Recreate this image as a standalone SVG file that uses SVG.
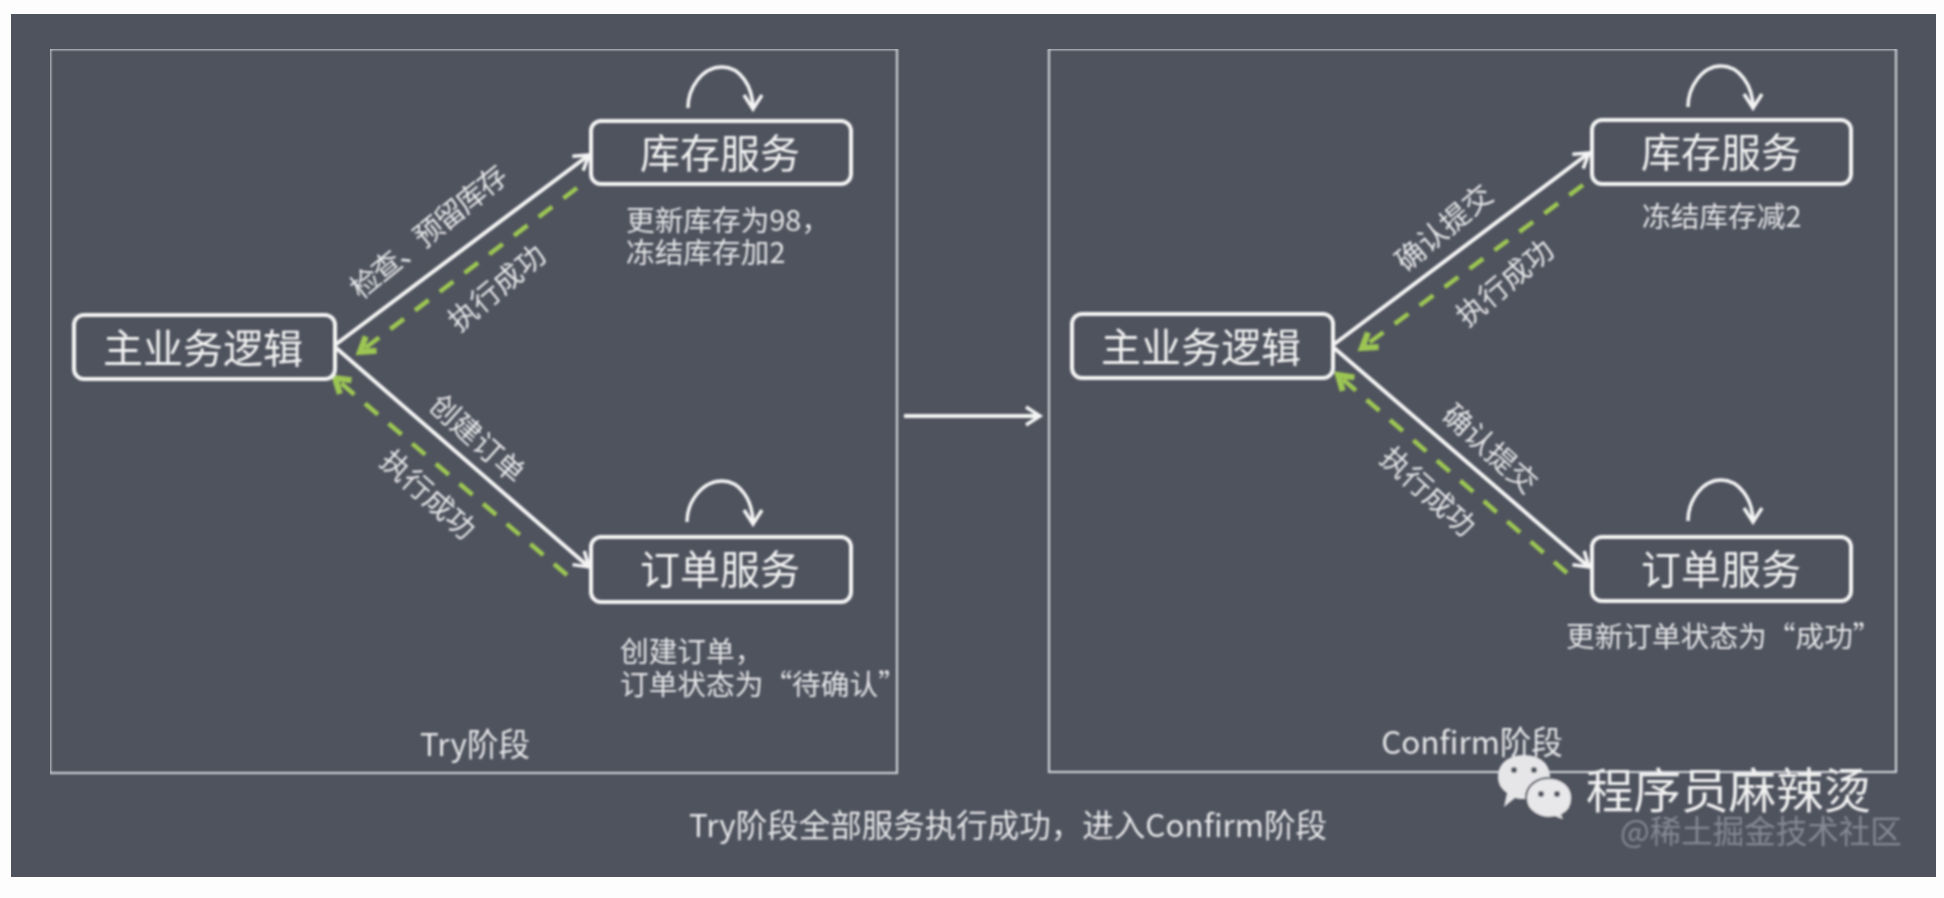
<svg xmlns="http://www.w3.org/2000/svg" width="1944" height="898" viewBox="0 0 1944 898">
<style>
text{font-family:"Noto Sans CJK SC","Liberation Sans",sans-serif;fill:#e4e5e7}
.n text{font-size:40px;text-anchor:middle;fill:#f2f2f2}
.n rect{fill:none;stroke:#f4f4f4;stroke-width:4;rx:10px}
.l{font-size:28.7px}
.r{font-size:29px;text-anchor:middle}
.c{font-size:31.5px;text-anchor:middle}
.frame{fill:none;stroke:#d6d8dc;stroke-width:2}
.w{fill:none;stroke:#f4f4f4;stroke-width:4;marker-end:url(#wh)}
.g{fill:none;stroke:#9cc653;stroke-width:4.5;stroke-dasharray:17 14;marker-end:url(#gh)}
.lp{fill:none;stroke:#f4f4f4;stroke-width:3.5;marker-end:url(#wh)}
</style>
<defs>
<filter id="soft" x="0" y="0" width="1" height="1" filterUnits="objectBoundingBox"><feGaussianBlur stdDeviation="0.8"/></filter>
<marker id="wh" markerUnits="userSpaceOnUse" markerWidth="26" markerHeight="26" refX="16" refY="13" orient="auto"><path d="M2 4 L16 13 L2 22" fill="none" stroke="#f4f4f4" stroke-width="3.5"/></marker>
<marker id="gh" markerUnits="userSpaceOnUse" markerWidth="28" markerHeight="28" refX="19" refY="14" orient="auto"><path d="M5 5 L19 14 L5 23" fill="none" stroke="#9cc653" stroke-width="6"/></marker>
</defs>
<rect width="1944" height="898" fill="#fdfdfd"/>
<rect x="11" y="14" width="1925" height="863" fill="#4f535e"/>
<g filter="url(#soft)">
<rect class="frame" x="50" y="49" width="847" height="724"/>
<rect class="frame" x="1049" y="49" width="847" height="723"/>
<g id="connectors">
<path class="w" d="M335 345 L589 155"/>
<path class="g" d="M577 188 L360 352"/>
<path class="w" d="M335 347 L589 567"/>
<path class="g" d="M567 575 L335 378"/>
<path class="lp" d="M688 108 C688 88 702 67 722 67 C740 67 753 86 753 109"/>
<path class="lp" d="M687 522 C687 502 702 481 722 481 C740 481 753 500 753 524"/>
<path class="w" d="M904 416 L1040 416"/>
<path class="w" d="M1333 345 L1589 153"/>
<path class="g" d="M1583 185 L1362 348"/>
<path class="w" d="M1333 347 L1589 567"/>
<path class="g" d="M1567 573 L1338 375"/>
<path class="lp" d="M1688 107 C1688 87 1702 66 1721 66 C1739 66 1753 85 1753 108"/>
<path class="lp" d="M1688 521 C1688 501 1702 480 1721 480 C1739 480 1753 499 1753 522"/>
</g>
<g id="try-main" class="n"><rect x="74" y="315" width="261" height="64"/><text x="203" y="363">主业务逻辑</text></g>
<g id="try-stock" class="n"><rect x="591" y="121" width="260" height="63"/><text x="720" y="168">库存服务</text></g>
<g id="try-order" class="n"><rect x="591" y="537" width="260" height="65"/><text x="720" y="584">订单服务</text></g>
<g id="confirm-main" class="n"><rect x="1072" y="314" width="261" height="64"/><text x="1201" y="362">主业务逻辑</text></g>
<g id="confirm-stock" class="n"><rect x="1592" y="120" width="259" height="64"/><text x="1721" y="167">库存服务</text></g>
<g id="confirm-order" class="n"><rect x="1592" y="537" width="259" height="64"/><text x="1721" y="584">订单服务</text></g>
<g id="labels">
<text class="r" transform="translate(429 232) rotate(-39)" y="10" textLength="192">检查、预留库存</text>
<text class="r" transform="translate(497 288) rotate(-40)" y="10">执行成功</text>
<text class="r" transform="translate(477 439) rotate(42)" y="10">创建订单</text>
<text class="r" transform="translate(428 495) rotate(42)" y="10">执行成功</text>
<text class="l" x="626" y="231">更新库存为98，</text>
<text class="l" x="626" y="263">冻结库存加2</text>
<text class="l" x="620" y="662">创建订单，</text>
<text class="l" x="620" y="695">订单状态为“待确认”</text>
<text class="c" x="475" y="756">Try阶段</text>
<text class="r" transform="translate(1444 228) rotate(-40)" y="10">确认提交</text>
<text class="r" transform="translate(1505 283) rotate(-40)" y="10">执行成功</text>
<text class="r" transform="translate(1490 449) rotate(42)" y="10">确认提交</text>
<text class="r" transform="translate(1428 492) rotate(42)" y="10">执行成功</text>
<text class="l" x="1642" y="227">冻结库存减2</text>
<text class="l" x="1566" y="647">更新订单状态为“成功”</text>
<text class="c" x="1472" y="754">Confirm阶段</text>
<text class="c" x="689" y="837" style="text-anchor:start">Try阶段全部服务执行成功，进入Confirm阶段</text>
</g>
<g id="watermark">
<path d="M1498 777 C1498 762 1510 755 1524 755 C1538 755 1550 762 1550 777 C1550 792 1538 799 1524 799 C1521 799 1518 799 1515 798 L1504 807 L1507 793 C1501 789 1498 784 1498 777Z" fill="#e6e6e8"/>
<path d="M1526 798 C1526 786 1536 778 1549 778 C1562 778 1572 786 1572 798 C1572 806 1568 812 1562 815 L1565 821 L1555 817 C1541 820 1526 812 1526 798Z" fill="#e8e8ea" stroke="#4f535e" stroke-width="2"/>
<circle cx="1514" cy="770" r="3" fill="#4f535e"/><circle cx="1534" cy="770" r="3" fill="#4f535e"/>
<circle cx="1541" cy="794" r="3" fill="#4f535e"/><circle cx="1557" cy="794" r="3" fill="#4f535e"/>
<text x="1586" y="808" font-size="47.5" style="fill:#f0f0f0">程序员麻辣烫</text>
<text x="1620" y="843" font-size="31.5" style="fill:#858892">@稀土掘金技术社区</text>
</g>
</g>
</svg>
